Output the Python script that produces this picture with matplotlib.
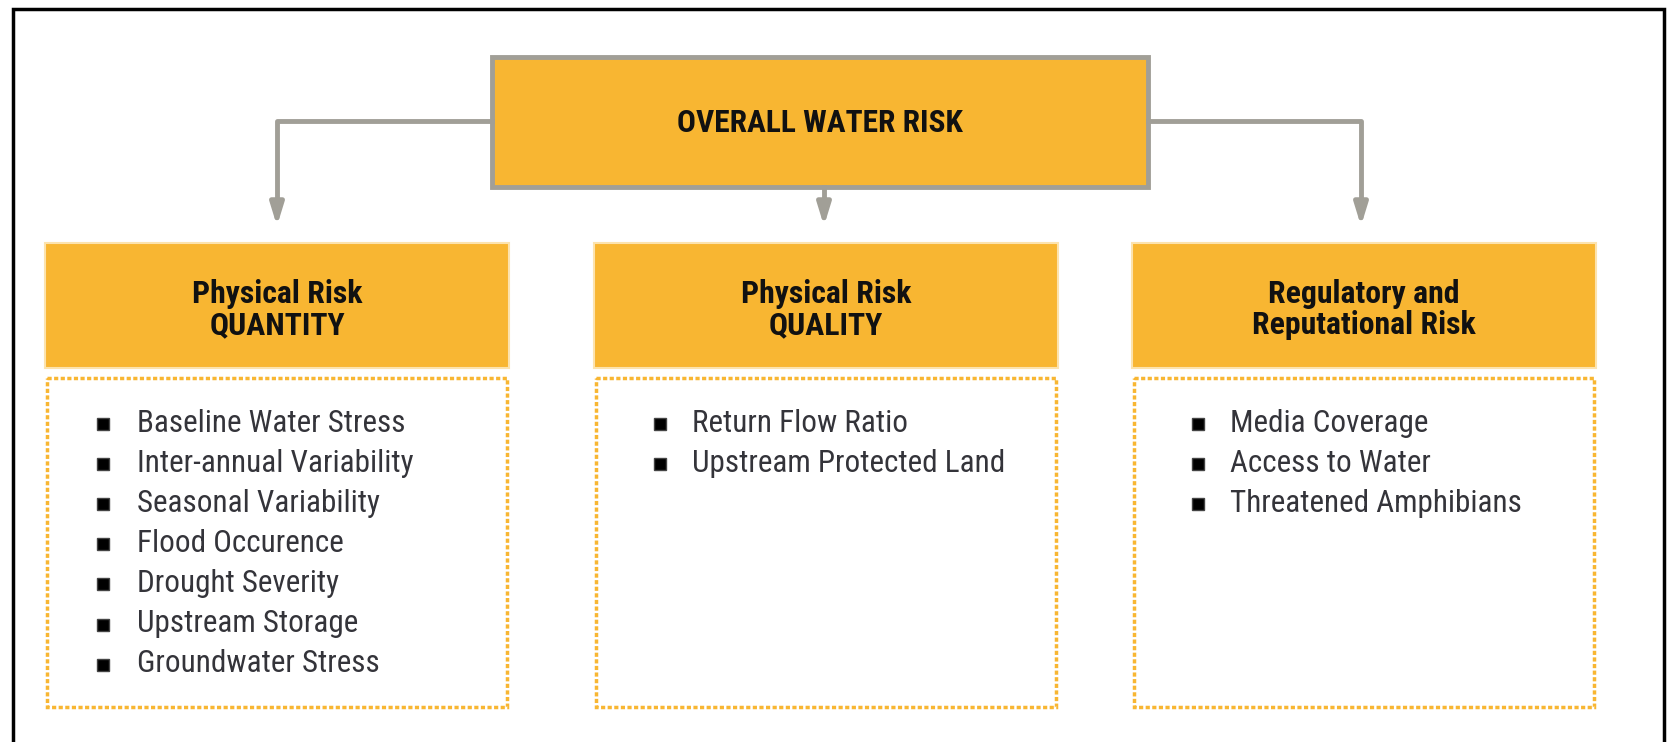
import matplotlib
matplotlib.use("Agg")
import matplotlib.pyplot as plt
from matplotlib import font_manager as fm
from matplotlib.patches import Rectangle

ORANGE = "#F8B632"
GREY = "#A19F97"

top_label = "OVERALL WATER RISK"
headers = ["Physical Risk\nQUANTITY", "Physical Risk\nQUALITY", "Regulatory and\nReputational Risk"]
items_quantity = ["Baseline Water Stress", "Inter-annual Variability", "Seasonal Variability",
                  "Flood Occurence", "Drought Severity", "Upstream Storage", "Groundwater Stress"]
items_quality = ["Return Flow Ratio", "Upstream Protected Land"]
items_reg = ["Media Coverage", "Access to Water", "Threatened Amphibians"]
columns = [items_quantity, items_quality, items_reg]

# pick a narrow sans if one is there
names = {f.name for f in fm.fontManager.ttflist}
family, stretch = "Liberation Sans", "normal"
for cand in ["Liberation Sans Narrow", "Arial Narrow", "Roboto Condensed", "Open Sans Condensed"]:
    if cand in names:
        family = cand
        break
else:
    cond = [f for f in fm.fontManager.ttflist if f.name == "Noto Sans"
            and str(f.stretch) in ("condensed", "semi-condensed", "extra-condensed")]
    if cond:
        family, stretch = "Noto Sans", "condensed"
FONT = [family, "DejaVu Sans"]

# layout in pixels
W, H = 1671, 742
col_x = [45, 594, 1132]
col_w = 464
arrow_x = [277, 824, 1361]

fig = plt.figure(figsize=(W / 100, H / 100), dpi=100)
ax = fig.add_axes([0, 0, 1, 1])
ax.set_xlim(0, W)
ax.set_ylim(H, 0)
ax.axis("off")
renderer = fig.canvas.get_renderer()


def fit_size(s, width, bold=False):
    t = ax.text(0, 0, s, fontsize=20, family=FONT, fontstretch=stretch,
                fontweight="bold" if bold else "normal")
    w = t.get_window_extent(renderer).width
    t.remove()
    return 20 * width / w


item_fs = fit_size("Baseline Water Stress", 268)
head_fs = fit_size("Reputational Risk", 223, bold=True)
top_fs = fit_size(top_label, 287, bold=True)

# outer frame (bottom edge runs off the image)
ax.plot([13, 13, 1664, 1664], [H + 5, 9, 9, H + 5], color="black", lw=2.5, solid_joinstyle="miter")

# top box
ax.add_patch(Rectangle((492, 57), 656, 130, facecolor=ORANGE, edgecolor=GREY, lw=3.5))
ax.text(820, 123, top_label, ha="center", va="center", fontsize=top_fs, fontweight="bold",
        family=FONT, fontstretch=stretch, color="#111111")

# connectors
ax.plot([492, arrow_x[0], arrow_x[0]], [121, 121, 205], color=GREY, lw=3.5)
ax.plot([1148, arrow_x[2], arrow_x[2]], [121, 121, 205], color=GREY, lw=3.5)
ax.plot([arrow_x[1], arrow_x[1]], [187, 205], color=GREY, lw=3.5)
for x in arrow_x:
    ax.annotate("", xy=(x, 226), xytext=(x, 200),
                arrowprops=dict(arrowstyle="-|>,head_length=1.3,head_width=0.4",
                                color=GREY, lw=3.5, shrinkA=0, shrinkB=0))

for x0, head, items in zip(col_x, headers, columns):
    ax.add_patch(Rectangle((x0, 243), col_w, 125, facecolor=ORANGE, edgecolor="#FCE3AE", lw=1.5))
    l1, l2 = head.split("\n")
    for yy, s in [(294, l1), (325, l2)]:
        ax.text(x0 + col_w / 2, yy, s, ha="center", va="center", fontsize=head_fs,
                fontweight="bold", family=FONT, fontstretch=stretch, color="#111111")
    ax.add_patch(Rectangle((x0 + 2, 378), col_w - 4, 329, facecolor="none", edgecolor=ORANGE,
                           lw=2.5, linestyle=(0, (1.2, 0.7))))
    bx = x0 + 58 if x0 == col_x[0] else x0 + 66
    tx = x0 + 92 if x0 == col_x[0] else x0 + 98
    for i, it in enumerate(items):
        y = 423 + i * 40.1
        ax.plot(bx, y + 1, marker="s", ms=9, color="black", mec="#444444")
        ax.text(tx, y, it, ha="left", va="center", fontsize=item_fs, family=FONT,
                fontstretch=stretch, color="#34343A")

fig.savefig("out.png", dpi=100)
